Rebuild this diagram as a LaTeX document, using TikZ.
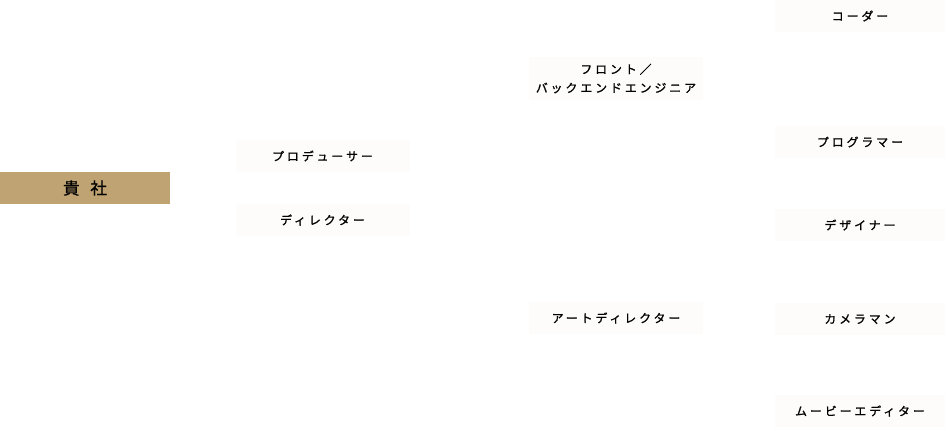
\documentclass[tikz,border=0pt]{standalone}
\usepackage{fontspec}
\newfontfamily\jp[LetterSpace=25,FakeBold=1.2]{Noto Sans CJK JP}
\newfontfamily\jpb[FakeBold=0.8]{Noto Sans CJK JP}
\definecolor{gold}{RGB}{192,163,114}
\definecolor{boxbg}{RGB}{253,252,250}
\tikzset{
  rolebox/.style={fill=boxbg, draw=none, minimum width=130.5pt, minimum height=24pt, inner sep=0pt, align=center, font=\jp\fontsize{8.9pt}{14pt}\selectfont, text=black},
  clientbox/.style={fill=gold, draw=none, minimum width=127.5pt, minimum height=24pt, inner sep=0pt, font=\jpb\fontsize{12.5pt}{14pt}\selectfont, text=black}
}
\begin{document}
\begin{tikzpicture}[x=0.75pt,y=-0.75pt]
\useasboundingbox (0,0) rectangle (949,430);
\node[clientbox] (client) at (85,188) {貴\hspace{8pt}社};
\node[rolebox] (producer) at (322.5,156) {プロデューサー};
\node[rolebox] (director) at (322.5,220) {ディレクター};
\node[rolebox, minimum height=32pt] (engineer) at (616,78.5) {フロント／\\バックエンドエンジニア};
\node[rolebox] (artdir) at (616,318) {アートディレクター};
\node[rolebox, minimum width=127.5pt] (coder) at (860,16) {コーダー};
\node[rolebox, minimum width=127.5pt] (programmer) at (860,142) {プログラマー};
\node[rolebox, minimum width=127.5pt] (designer) at (860,225) {デザイナー};
\node[rolebox, minimum width=127.5pt] (camera) at (860,319) {カメラマン};
\node[rolebox, minimum width=127.5pt] (editor) at (860,411) {ムービーエディター};
\end{tikzpicture}
\end{document}
